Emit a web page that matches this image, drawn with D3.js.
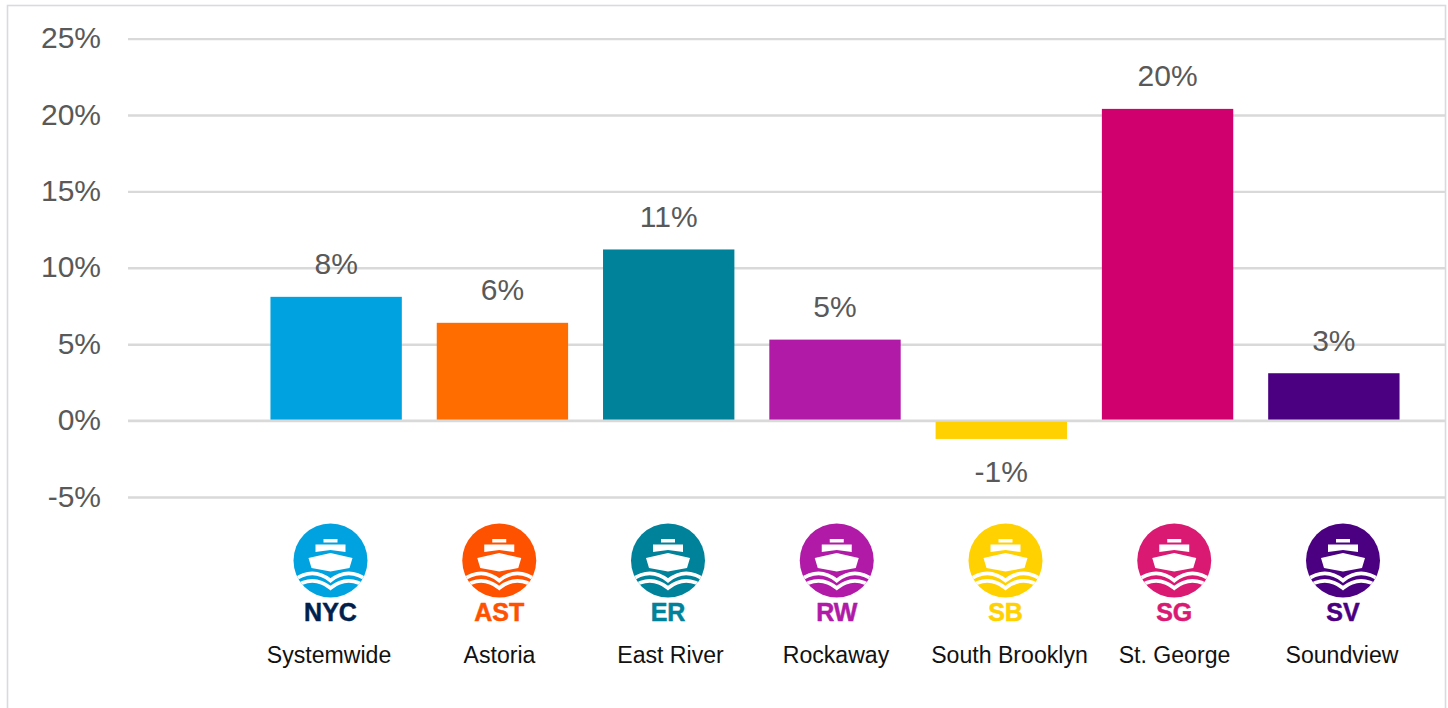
<!DOCTYPE html>
<html>
<head>
<meta charset="utf-8">
<script src="https://cdn.jsdelivr.net/npm/d3@7"></script>
<style>
  html, body { margin: 0; padding: 0; background: #fff; overflow: hidden; }
  text { font-family: "Liberation Sans", Arial, sans-serif; }
</style>
</head>
<body>
<div id="chart"></div>
<script>
const names = ["Systemwide", "Astoria", "East River", "Rockaway", "South Brooklyn", "St. George", "Soundview"];
const codes = ["NYC", "AST", "ER", "RW", "SB", "SG", "SV"];
const values = [8.1, 6.4, 11.2, 5.3, -1.2, 20.4, 3.1];
const value_labels = ["8%", "6%", "11%", "5%", "-1%", "20%", "3%"];
const bar_colors = ["#00a3e0", "#ff6d00", "#00829b", "#b01aa7", "#ffd100", "#d0006f", "#4b0082"];
const icon_colors = ["#00a3e0", "#ff5200", "#00829b", "#b01aa7", "#ffd100", "#da1a72", "#4b0082"];
const code_colors = ["#001f4d", "#ff5200", "#00829b", "#b01aa7", "#ffd100", "#da1a72", "#4b0082"];
const ticks = [-5, 0, 5, 10, 15, 20, 25];

const width = 1448;
const height = 708;
const grid_color = "#d9d9d9";

const svg = d3.select("#chart").append("svg")
  .attr("width", width)
  .attr("height", height)
  .style("display", "block");

svg.append("rect")
  .attr("x", 7.5)
  .attr("y", 5.5)
  .attr("width", 1438)
  .attr("height", 720)
  .attr("fill", "#fff")
  .attr("stroke", "#d9d9e3")
  .attr("stroke-width", 1.6);

const scale_y = d3.scaleLinear().domain([-5, 25]).range([497, 38.6]);
const scale_x = d3.scaleBand()
  .domain(names)
  .range([253, 1417])
  .paddingInner(0.21)
  .paddingOuter(0.105);
// the icon row is spaced a little differently from the bars
const scale_icon = d3.scalePoint().domain(names).range([330.5, 1343]);

const axis = svg.append("g")
  .attr("transform", "translate(128,0)")
  .call(d3.axisLeft(scale_y).tickValues(ticks).tickFormat(d => d + "%").tickSize(0).tickPadding(27));
axis.select(".domain").remove();
axis.selectAll("text")
  .attr("font-size", 30)
  .attr("dy", "0.3em")
  .attr("fill", "#595959")
  .style("font-family", '"Liberation Sans", Arial, sans-serif');
axis.selectAll("line")
  .attr("x2", 1317)
  .attr("stroke", grid_color)
  .attr("stroke-width", 2.4);

svg.selectAll(".bar")
  .data(values)
  .join("rect")
  .attr("class", "bar")
  .attr("x", (d, i) => scale_x(names[i]))
  .attr("width", scale_x.bandwidth())
  .attr("y", d => scale_y(Math.max(d, 0)))
  .attr("height", d => Math.abs(scale_y(d) - scale_y(0)))
  .attr("fill", (d, i) => bar_colors[i]);

// the zero line sits on top of the bars
svg.append("line")
  .attr("x1", 128)
  .attr("x2", 1445)
  .attr("y1", scale_y(0))
  .attr("y2", scale_y(0))
  .attr("stroke", grid_color)
  .attr("stroke-width", 2.4);

svg.selectAll(".value")
  .data(values)
  .join("text")
  .attr("class", "value")
  .attr("x", (d, i) => scale_x(names[i]) + scale_x.bandwidth() / 2)
  .attr("y", d => d >= 0 ? scale_y(d) - 22.5 : scale_y(d) + 43)
  .attr("text-anchor", "middle")
  .attr("font-size", 30)
  .attr("fill", "#595959")
  .text((d, i) => value_labels[i]);

svg.append("defs").append("clipPath")
  .attr("id", "disc")
  .append("circle")
  .attr("r", 37);

const icons = svg.selectAll(".icon")
  .data(names)
  .join("g")
  .attr("class", "icon")
  .attr("transform", d => `translate(${scale_icon(d)},560.5)`);

icons.append("circle")
  .attr("r", 37)
  .attr("fill", (d, i) => icon_colors[i]);

// ship: funnel, cabin, hull
icons.append("path")
  .attr("fill", "#fff")
  .attr("d", "M-7,-21.5H7V-18H-7Z M-15,-16H15V-8.5L0,-10.5L-15,-8.5Z M-22,-2.5L0,-7.5L22,-2.5L19,7.5L0,11L-19,7.5Z");

// two wave stripes, clipped to the disc
const waves = icons.append("g").attr("clip-path", "url(#disc)");
waves.append("path")
  .attr("fill", "none")
  .attr("stroke", "#fff")
  .attr("stroke-width", 3.8)
  .attr("d", "M-42,24Q-20,4 0,20Q20,4 42,24");
waves.append("path")
  .attr("fill", "none")
  .attr("stroke", "#fff")
  .attr("stroke-width", 3.8)
  .attr("d", "M-42,31.5Q-20,11.5 0,27.5Q20,11.5 42,31.5");

svg.selectAll(".code")
  .data(codes)
  .join("text")
  .attr("class", "code")
  .attr("x", (d, i) => scale_icon(names[i]))
  .attr("y", 621)
  .attr("text-anchor", "middle")
  .attr("font-size", 25)
  .attr("font-weight", "bold")
  .attr("stroke", (d, i) => code_colors[i])
  .attr("stroke-width", 0.5)
  .attr("fill", (d, i) => code_colors[i])
  .text(d => d);

const name_x = [329, 499.5, 670.5, 836, 1009.5, 1174.5, 1342];
svg.selectAll(".name")
  .data(names)
  .join("text")
  .attr("class", "name")
  .attr("x", (d, i) => name_x[i])
  .attr("y", 663)
  .attr("text-anchor", "middle")
  .attr("font-size", 23.1)
  .attr("fill", "#111")
  .text(d => d);
</script>
</body>
</html>
